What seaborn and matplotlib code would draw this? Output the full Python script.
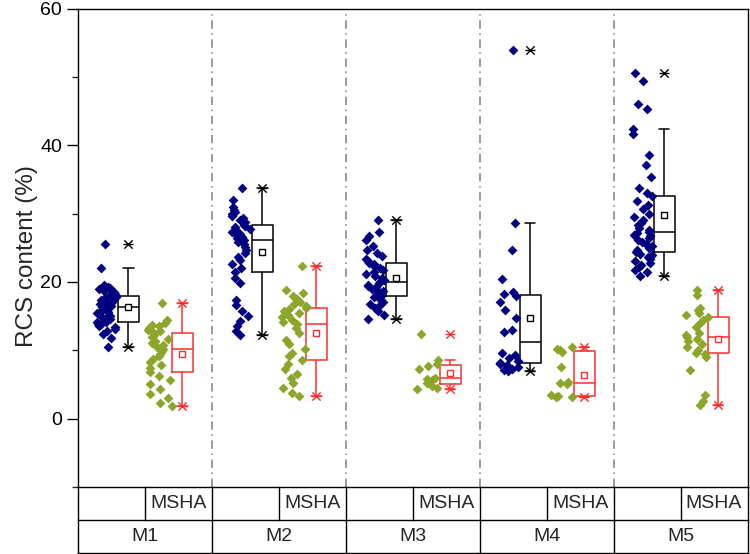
import numpy as np
import pandas as pd
import matplotlib
matplotlib.use("Agg")
import matplotlib.pyplot as plt
from matplotlib.ticker import FixedLocator, MultipleLocator
import seaborn as sns

# ---------------- data ----------------
groups = ["M1", "M2", "M3", "M4", "M5"]
sub_labels = ["", "MSHA"]

m1_a = [10.5, 11.8, 12.4, 12.8, 13.1, 13.4, 13.6, 13.8, 13.9, 14.1, 14.2, 14.4, 14.6, 14.8,
        15.0, 15.2, 15.4, 15.6, 15.9, 16.1, 16.35, 16.5, 16.6, 16.8, 16.9, 17.1, 17.3, 17.4,
        17.6, 17.8, 17.96, 18.1, 18.3, 18.5, 18.7, 18.9, 19.1, 19.3, 19.6, 22.0, 25.6]
m1_msha = [1.8, 2.3, 3.0, 3.6, 4.3, 5.0, 5.6, 6.2, 6.76, 7.4, 7.8, 8.3, 8.7, 9.1, 9.5, 9.9,
           10.2, 10.5, 10.8, 11.0, 11.3, 11.6, 11.9, 12.2, 12.5, 12.8, 13.0, 13.3, 13.5, 13.7,
           14.0, 14.45, 16.9]
m2_a = [12.2, 12.8, 13.5, 14.3, 15.0, 15.8, 16.6, 17.4, 19.8, 20.6, 21.4, 22.0, 22.6, 23.2,
        23.7, 24.2, 24.7, 25.1, 25.5, 25.8, 26.1, 26.4, 26.6, 26.8, 27.0, 27.3, 27.6, 27.8,
        28.0, 28.2, 28.4, 28.7, 29.0, 29.3, 29.6, 29.9, 30.2, 30.5, 31.0, 32.0, 33.8]
m2_msha = [3.3, 3.8, 4.5, 5.2, 5.9, 6.6, 7.3, 8.0, 8.6, 9.1, 9.6, 10.2, 10.9, 11.5, 12.6, 13.3,
           13.9, 14.2, 14.5, 14.8, 15.1, 15.4, 15.7, 16.0, 16.2, 16.5, 16.8, 17.1, 17.5, 17.9,
           18.4, 18.8, 22.4]
m3_a = [14.6, 15.2, 15.7, 16.2, 16.5, 16.8, 17.1, 17.4, 17.6, 17.8, 18.0, 18.2, 18.4, 18.6,
        18.8, 19.0, 19.2, 19.4, 19.6, 19.8, 20.0, 20.3, 20.6, 20.9, 21.2, 21.5, 21.8, 22.1,
        22.3, 22.6, 22.8, 23.1, 23.4, 23.8, 24.2, 24.7, 25.2, 26.1, 26.7, 27.3, 29.05]
m3_msha = [4.3, 4.5, 4.8, 5.2, 5.6, 5.8, 6.0, 7.3, 7.7, 8.0, 8.6, 12.4]
m4_a = [7.0, 7.1, 7.3, 7.5, 7.8, 8.0, 8.1, 8.2, 8.4, 8.8, 9.3, 9.6, 12.7, 13.0, 14.7, 15.9,
        17.1, 18.0, 18.3, 18.5, 20.4, 24.7, 28.6, 54.0]
m4_msha = [3.2, 3.2, 3.3, 3.4, 5.1, 5.2, 5.3, 7.6, 9.8, 10.0, 10.2, 10.5]
m5_a = [20.9, 21.4, 21.8, 22.2, 22.5, 22.8, 23.1, 23.4, 23.7, 23.9, 24.1, 24.4, 24.7, 25.0,
        25.3, 25.6, 25.9, 26.1, 26.4, 26.7, 26.9, 27.1, 27.35, 27.6, 27.9, 28.3, 28.6, 29.0,
        29.5, 30.0, 30.6, 31.2, 31.9, 32.6, 33.0, 33.8, 35.3, 37.1, 38.5, 41.7, 42.3, 45.3,
        46.1, 49.4, 50.6]
m5_msha = [2.0, 2.6, 3.4, 7.15, 9.0, 9.4, 9.6, 10.1, 10.5, 10.9, 11.3, 11.6, 11.9, 12.2, 12.5,
           13.4, 14.0, 14.4, 14.8, 15.2, 15.5, 15.9, 16.2, 18.1, 18.8]

series_a = [m1_a, m2_a, m3_a, m4_a, m5_a]
series_msha = [m1_msha, m2_msha, m3_msha, m4_msha, m5_msha]

# ---------------- layout / style ----------------
navy = "#000080"
olive = "#8CA62B"
red = "#FF2D2D"
box_colors = ["black", red]
pt_colors = [navy, olive]
box_off = [0.754, 1.56]
pt_off = [0.43, 1.23]
jit = [0.075, 0.09]

rows = []
for gi, g in enumerate(groups):
    for si, ser in enumerate([series_a, series_msha]):
        for v in ser[gi]:
            rows.append({"group": g, "series": si, "value": v,
                         "box_pos": 2 * gi + box_off[si], "pt_pos": 2 * gi + pt_off[si]})
df = pd.DataFrame(rows)

sns.set_style("ticks")
plt.rcParams["font.family"] = ["Liberation Sans", "DejaVu Sans"]

fig = plt.figure(figsize=(7.5, 5.54), dpi=100)
L, W = 78 / 750, 669.5 / 750
B, H = (554 - 487) / 554, 478.5 / 554
ax = fig.add_axes([L, B, W, H])

np.random.seed(3)
for si in range(2):
    sub = df[df["series"] == si]
    sns.stripplot(data=sub, x="pt_pos", y="value", native_scale=True, orient="x",
                  jitter=jit[si], color=pt_colors[si], marker="D", size=5.0,
                  linewidth=0, ax=ax, zorder=3)
    c = box_colors[si]
    sns.boxplot(data=sub, x="box_pos", y="value", native_scale=True, orient="x",
                width=0.1565, fill=False, color=c, linecolor=c, saturation=1,
                linewidth=1.1, whis=1.5, showfliers=False, showmeans=True,
                boxprops=dict(color=c), medianprops=dict(color=c),
                whiskerprops=dict(color=c), capprops=dict(color=c),
                meanprops=dict(marker="s", markerfacecolor="white", markeredgecolor=c,
                               markersize=4.8, markeredgewidth=1.0),
                ax=ax)
    ext = sub.groupby("box_pos")["value"].agg(["min", "max"]).reset_index()
    ext = ext.melt(id_vars="box_pos", value_name="val")
    sns.scatterplot(data=ext, x="box_pos", y="val", marker="x", s=36, color=c,
                    linewidth=1.0, ax=ax, zorder=4, legend=False)
    sns.scatterplot(data=ext, x="box_pos", y="val", marker="_", s=50, color=c,
                    linewidth=1.0, ax=ax, zorder=4, legend=False)

for xv in [2, 4, 6, 8]:
    ax.axvline(xv, color="#808080", lw=1.1, ls=(0, (5.5, 3, 1, 3)), zorder=1)

ax.set_xlim(0, 10)
ax.set_ylim(-10, 60)
ax.set_xticks([])
ax.yaxis.set_major_locator(FixedLocator([0, 20, 40, 60]))
ax.yaxis.set_minor_locator(MultipleLocator(10))
ax.tick_params(axis="y", which="major", direction="out", length=8, width=1.0,
               labelsize=14, pad=3.6, colors="black")
ax.tick_params(axis="y", which="minor", direction="out", length=4.3, width=1.0)
ax.set_xlabel("")
ax.set_ylabel("RCS content (%)", fontsize=17.5)
ax.yaxis.set_label_coords(-0.06, 0.482)
for sp in ax.spines.values():
    sp.set_visible(True)
    sp.set_linewidth(1.0)
    sp.set_color("black")

# ---------------- category table below the plot ----------------
ax2 = fig.add_axes([L, 1.2 / 554, W, (554 - 487 - 1.2) / 554])
ax2.set_xlim(0, 10)
ax2.set_ylim(0, 2)
ax2.axis("off")
lk = dict(color="black", lw=1.0, clip_on=False, solid_capstyle="projecting")
ax2.plot([0, 10], [1, 1], **lk)
ax2.plot([0, 10], [0, 0], **lk)
for xv in range(0, 11, 2):
    ax2.plot([xv, xv], [0, 2], **lk)
for gi, g in enumerate(groups):
    ax2.plot([2 * gi + 1, 2 * gi + 1], [1, 2], **lk)
    ax2.text(2 * gi + 0.5, 1.5, sub_labels[0], ha="center", va="center", fontsize=14)
    ax2.text(2 * gi + 1.5, 1.5, sub_labels[1], ha="center", va="center", fontsize=14)
    ax2.text(2 * gi + 1.0, 0.5, g, ha="center", va="center", fontsize=14)

fig.savefig("out.png", dpi=100)
